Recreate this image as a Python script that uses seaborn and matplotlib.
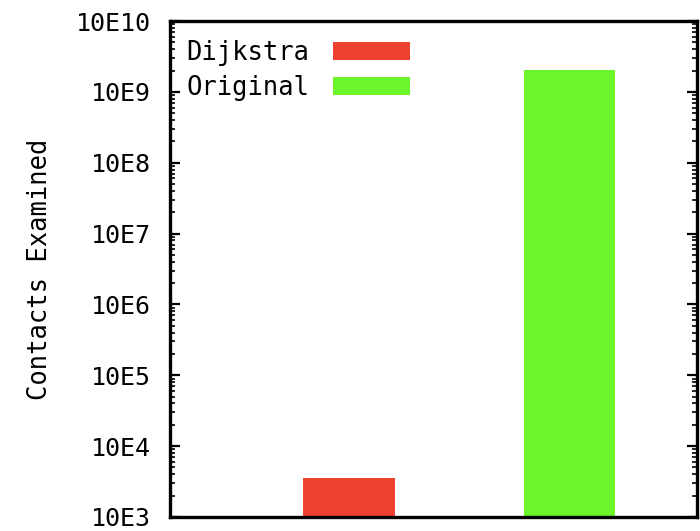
import matplotlib
matplotlib.use("Agg")
import matplotlib.pyplot as plt
import matplotlib.ticker as mticker
import numpy as np
import pandas as pd
import seaborn as sns

# Search algorithms compared and how many contacts each examined
methods = ["Dijkstra", "Original"]
contacts = [3550, 2.05e9]
colors = ["#EF4132", "#6BF52A"]

# Decades shown on the log axis
decade_exps = [3, 4, 5, 6, 7, 8, 9, 10]

df = pd.DataFrame({"method": methods, "contacts": contacts})

sns.set_style("white")
plt.rcParams["font.family"] = ["DejaVu Sans Mono"]
plt.rcParams["text.color"] = "black"
plt.rcParams["axes.labelcolor"] = "black"

fig = plt.figure(figsize=(7.0, 5.31), dpi=100)
ax = fig.add_axes([170 / 700, 14 / 531, 527 / 700, 496 / 531])

sns.barplot(data=df, x="method", y="contacts", hue="method",
            palette=dict(zip(methods, colors)), width=0.415,
            dodge=False, legend=False, ax=ax, linewidth=0, saturation=1)

ax.set_yscale("log")
ax.set_ylim(10 ** decade_exps[0], 10 ** decade_exps[-1])
ax.set_xlim(-0.812, 1.578)

ax.yaxis.set_major_locator(mticker.FixedLocator([10.0 ** e for e in decade_exps]))
ax.yaxis.set_major_formatter(mticker.FuncFormatter(
    lambda v, p: "10E%d" % int(round(np.log10(v)))))
ax.yaxis.set_minor_locator(mticker.LogLocator(base=10, subs=np.arange(2, 10), numticks=20))
ax.yaxis.set_minor_formatter(mticker.NullFormatter())

ax.tick_params(axis="y", which="major", direction="in", length=7, width=1.6,
               left=True, right=True, labelsize=18, pad=14, colors="black")
ax.tick_params(axis="y", which="minor", direction="in", length=3.5, width=1.4,
               left=True, right=True)
ax.tick_params(axis="x", bottom=False, top=False, labelbottom=False)

ax.set_xlabel("")
ax.set_ylabel("Contacts Examined", fontsize=18.4, labelpad=16)

for side in ["left", "right", "top", "bottom"]:
    ax.spines[side].set_visible(True)
    ax.spines[side].set_linewidth(2.4)
    ax.spines[side].set_color("black")

handles = [plt.Rectangle((0, 0), 1, 1, facecolor=c, edgecolor="none") for c in colors]
ax.legend(handles, methods, loc="upper left", bbox_to_anchor=(16 / 527, 1 - 19 / 496),
          frameon=False, markerfirst=False, fontsize=18.4, handlelength=3.0,
          handleheight=0.66, handletextpad=0.95, labelspacing=0.35,
          borderaxespad=0, borderpad=0)

fig.savefig("out.png", dpi=100)
